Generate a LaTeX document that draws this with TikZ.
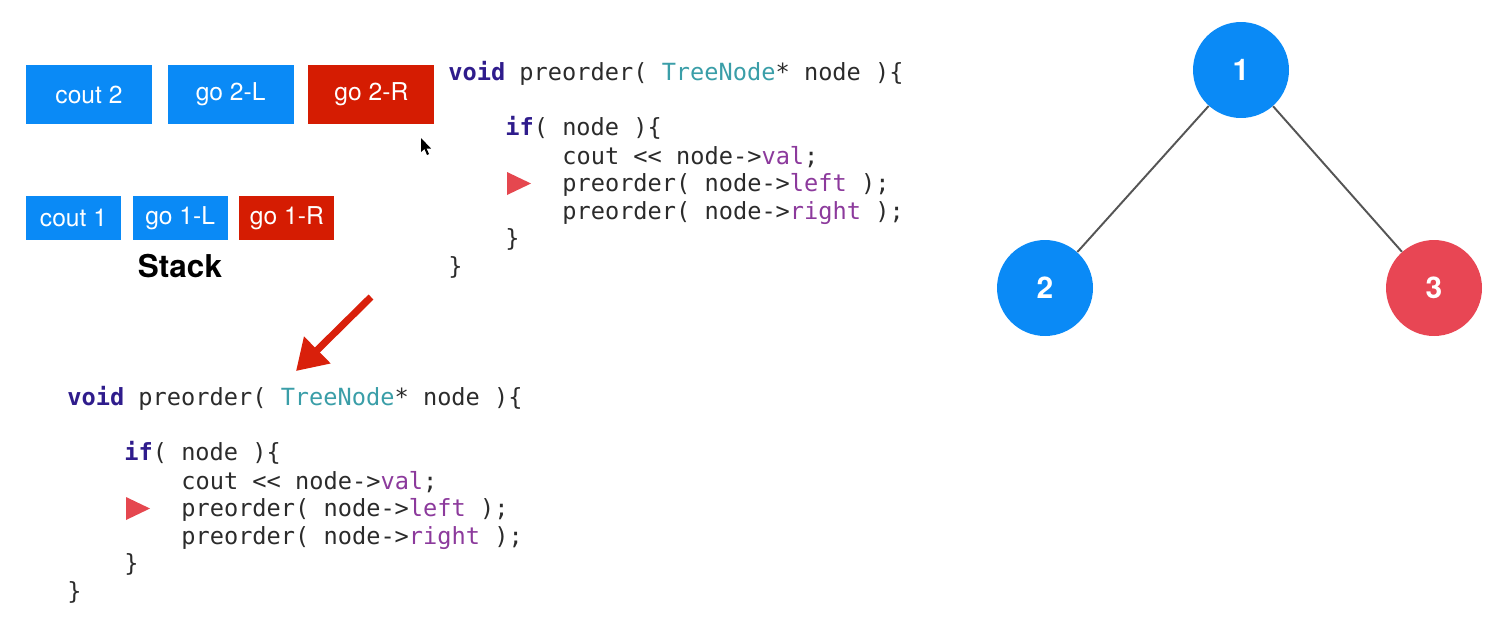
\documentclass[tikz,border=0pt]{standalone}
\usepackage{fontspec}
\setsansfont{TeX Gyre Heros}
\setmonofont{DejaVu Sans Mono}
\usetikzlibrary{arrows.meta, positioning}
\definecolor{stBlue}{HTML}{0A8AF6}
\definecolor{stRed}{HTML}{D51C02}
\definecolor{treeRed}{HTML}{E84654}
\definecolor{markRed}{HTML}{E5474F}
\definecolor{arrRed}{HTML}{D9200B}
\definecolor{kwPurple}{HTML}{2F1C8C}
\definecolor{typTeal}{HTML}{3A9EA8}
\definecolor{memPurple}{HTML}{8C3A9C}
\definecolor{codeGrey}{HTML}{2B2B2B}
\definecolor{edgeGrey}{HTML}{555555}
\newcommand{\kwd}[1]{\textcolor{kwPurple}{\bfseries #1}}
\newcommand{\typ}[1]{\textcolor{typTeal}{#1}}
\newcommand{\mem}[1]{\textcolor{memPurple}{#1}}
\tikzset{
  stackbig/.style   = {rectangle, text=white, font=\sffamily\fontsize{14}{16}\selectfont,
                       minimum width=2.52cm, minimum height=1.18cm, inner sep=0pt},
  stacksmall/.style = {stackbig, minimum width=1.9cm, minimum height=0.88cm},
  codeline/.style   = {anchor=base west, inner sep=0pt, text=codeGrey,
                       font=\ttfamily\fontsize{13.45}{15.6}\selectfont},
  marker/.style     = {fill=markRed},
  treenode/.style   = {circle, minimum size=1.92cm, inner sep=0pt, text=white,
                       font=\sffamily\bfseries\fontsize{17}{19}\selectfont},
  treeedge/.style   = {edgeGrey, line width=1.1pt},
  bigarrow/.style   = {arrRed, line width=4pt, -{Triangle[length=0.6cm, width=0.72cm]}},
}
% one copy of the preorder function, first baseline at (0,0)
\newcommand{\preordercode}{%
  \node[codeline] (line0) at (0,0)     {\kwd{void} preorder( \typ{TreeNode}* node )\{};
  \node[codeline] (line2) at (57,55)   {\kwd{if}( node )\{};
  \node[codeline] (line3) at (114,84)  {cout << node->\mem{val};};
  \node[codeline] (line4) at (114,111) {preorder( node->\mem{left} );};
  \node[codeline] (line5) at (114,139) {preorder( node->\mem{right} );};
  \node[codeline] (line6) at (57,166)  {\}};
  \node[codeline] (line7) at (0,194)   {\}};
  \fill[marker] (59,92) -- (83,103.5) -- (59,115) -- cycle;
}

\begin{document}
\begin{tikzpicture}[x=0.02cm, y=-0.02cm]
  \useasboundingbox (0,0) rectangle (1497,633);

  % stack frames
  \node[stackbig, fill=stBlue] (cout2) at (89,94.5) {cout 2};
  \node[stackbig, fill=stBlue, right=0.3cm of cout2] (go2L) {go 2-L};
  \node[stackbig, fill=stRed,  right=0.28cm of go2L] (go2R) {go 2-R};

  \node[stacksmall, fill=stBlue] (cout1) at (73.5,218) {cout 1};
  \node[stacksmall, fill=stBlue, right=0.22cm of cout1] (go1L) {go 1-L};
  \node[stacksmall, fill=stRed,  right=0.22cm of go1L] (go1R) {go 1-R};
  \node[font=\sffamily\bfseries\fontsize{17.9}{20}\selectfont] (stack) at (180,266) {Stack};

  % mouse pointer
  \fill[black] (421,138) -- (421,152) -- (424.5,149) -- (427,155) -- (429,154)
    -- (426.5,148.5) -- (431,148.5) -- cycle;

  % code
  \begin{scope}[shift={(448,80)}, name prefix=top-]
    \preordercode
  \end{scope}
  \begin{scope}[shift={(67,405)}, name prefix=bot-]
    \preordercode
  \end{scope}

  \coordinate (arrowstart) at (371,297);
  \coordinate (arrowend) at (296,371);
  \draw[bigarrow] (arrowstart) -- (arrowend);

  % tree
  \node[treenode, fill=stBlue]  (n1) at (1241,70)  {1};
  \node[treenode, fill=stBlue]  (n2) at (1045,288) {2};
  \node[treenode, fill=treeRed] (n3) at (1434,288) {3};
  \draw[treeedge] (n1) -- (n2);
  \draw[treeedge] (n1) -- (n3);
\end{tikzpicture}
\end{document}
